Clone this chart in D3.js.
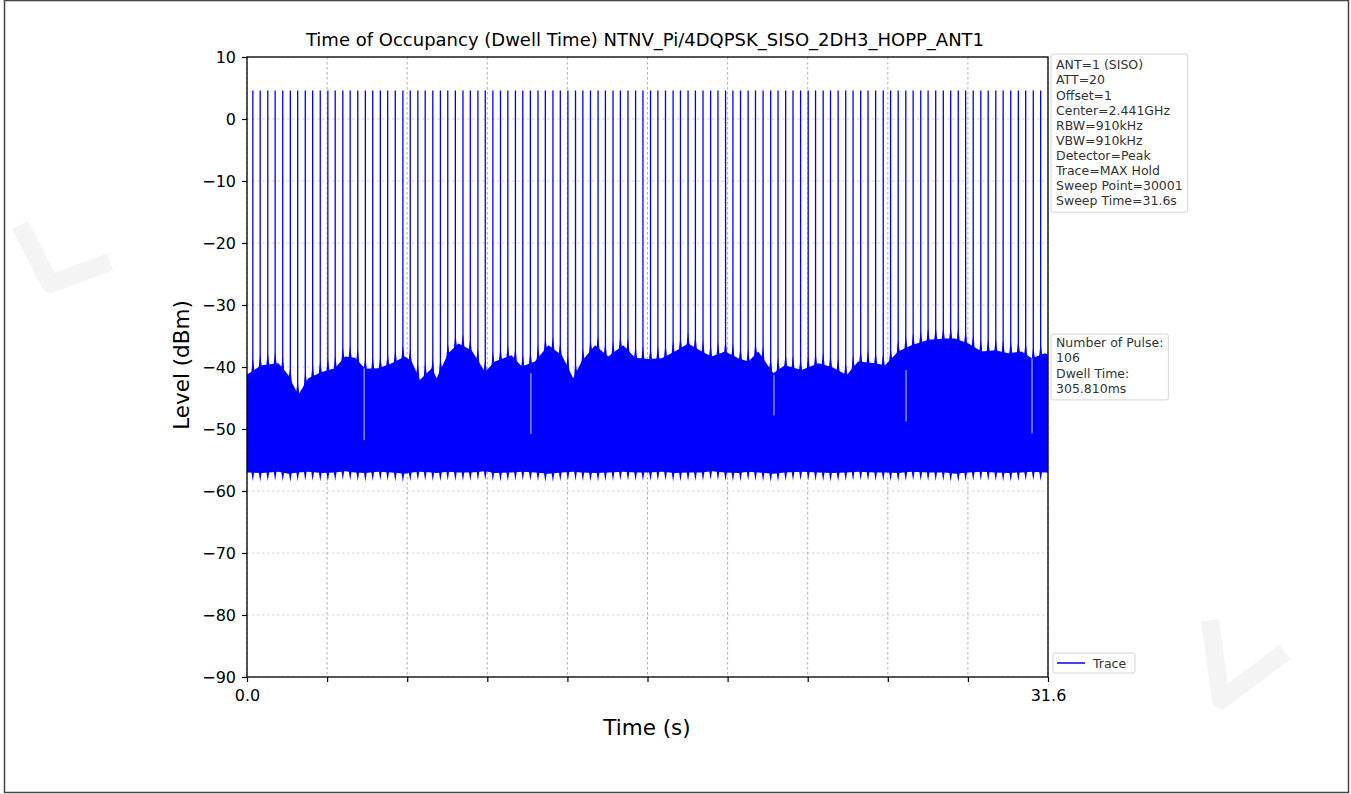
<!DOCTYPE html>
<html>
<head>
<meta charset="utf-8">
<script src="https://cdn.jsdelivr.net/npm/d3@7"></script>
<style>
  body { margin: 0; background: #fff; }
  svg { display: block; font-family: "DejaVu Sans", sans-serif; }
</style>
</head>
<body>
<div id="chart"></div>
<script>
'use strict';

// ---- data ----
const titleText = "Time of Occupancy (Dwell Time) NTNV_Pi/4DQPSK_SISO_2DH3_HOPP_ANT1";
const xLabel = "Time (s)";
const yLabel = "Level (dBm)";

const yTicks = [10, 0, -10, -20, -30, -40, -50, -60, -70, -80, -90];
const xTicks = [0, 3.16, 6.32, 9.48, 12.64, 15.8, 18.96, 22.12, 25.28, 28.44, 31.6];
const xTickLabels = ["0.0", "", "", "", "", "", "", "", "", "", "31.6"];

// hop pulses (s), all peaking near the same level
const pulseTimes = [
  0.23, 0.52, 0.82, 1.11, 1.41, 1.71, 2.00, 2.30, 2.59, 2.89,
  3.19, 3.48, 3.78, 4.07, 4.37, 4.67, 4.96, 5.26, 5.55, 5.85,
  6.15, 6.44, 6.74, 7.03, 7.33, 7.63, 7.92, 8.22, 8.52, 8.81,
  9.11, 9.40, 9.70, 10.00, 10.29, 10.59, 10.88, 11.18, 11.48, 11.77,
  12.07, 12.36, 12.66, 12.96, 13.25, 13.55, 13.85, 14.14, 14.44, 14.73,
  15.03, 15.33, 15.62, 15.92, 16.21, 16.51, 16.81, 17.10, 17.40, 17.69,
  17.99, 18.29, 18.58, 18.88, 19.17, 19.47, 19.77, 20.06, 20.36, 20.66,
  20.95, 21.25, 21.54, 21.84, 22.14, 22.43, 22.73, 23.02, 23.32, 23.62,
  23.91, 24.21, 24.50, 24.80, 25.10, 25.39, 25.69, 25.99, 26.28, 26.58,
  26.87, 27.17, 27.47, 27.76, 28.06, 28.35, 28.65, 28.95, 29.24, 29.54,
  29.83, 30.13, 30.43, 30.72, 31.02, 31.31
];
const pulsePeakDbm = 4.6;
// skirt of each pulse above / below the noise band (dB) and its half width (s)
const skirtUp = 2.0;
const skirtDown = 1.4;
const skirtHalf = 0.07;

// noise floor band: upper and lower edges
const envTimes = [
  0.00, 0.58, 1.24, 1.63, 2.02, 2.42, 2.95, 3.47, 3.87, 4.26,
  4.66, 5.18, 5.71, 6.23, 6.50, 6.82, 7.29, 7.48, 7.94, 8.34,
  8.86, 9.39, 9.78, 10.44, 10.84, 11.36, 11.89, 12.42, 12.87, 13.20,
  13.73, 14.25, 14.84, 15.31, 15.83, 16.36, 16.88, 17.41, 17.94, 18.33,
  18.86, 19.38, 19.78, 20.17, 20.76, 21.22, 21.88, 22.54, 23.07, 23.66,
  24.11, 24.77, 25.17, 25.69, 26.22, 26.88, 27.54, 27.93, 28.46, 28.98,
  29.51, 30.03, 30.56, 30.96, 31.48, 31.60
];
const envUpper = [
  -41.2, -39.7, -39.4, -41.3, -44.5, -41.8, -40.8, -40.2, -38.3, -38.5,
  -40.3, -40.2, -39.4, -38.3, -39.1, -42.1, -40.2, -41.8, -37.8, -36.2,
  -37.3, -40.8, -39.1, -38.1, -39.9, -39.1, -36.5, -38.1, -41.8, -39.1,
  -36.5, -38.3, -36.5, -38.5, -38.7, -38.6, -37.5, -36.2, -37.5, -38.3,
  -37.5, -38.6, -39.1, -37.5, -41.0, -39.7, -40.5, -39.4, -40.0, -41.3,
  -39.1, -39.4, -39.7, -37.5, -36.5, -35.6, -35.4, -35.4, -36.2, -37.5,
  -37.3, -37.8, -37.5, -38.6, -37.8, -38.0
];
const envLower = [
  -57.0, -57.1, -56.9, -57.2, -57.0, -56.9, -57.1, -57.0, -56.8, -57.0,
  -57.1, -56.9, -57.0, -57.2, -57.0, -56.9, -57.0, -57.1, -56.9, -57.0,
  -57.0, -56.8, -57.1, -57.0, -56.9, -57.0, -57.2, -57.0, -56.9, -57.0,
  -57.1, -57.0, -56.9, -57.0, -57.0, -56.9, -57.1, -57.0, -57.0, -56.8,
  -57.0, -57.1, -56.9, -57.0, -57.2, -57.0, -56.9, -57.0, -57.1, -57.0,
  -56.9, -57.0, -57.0, -57.1, -56.9, -57.0, -57.0, -57.2, -57.0, -56.9,
  -57.0, -57.1, -57.0, -56.9, -57.0, -57.0
];

// thin light streaks inside the band
const gapTimes = [4.62, 11.20, 20.79, 26.00, 30.97];
const gapTop = [-40.2, -41.0, -41.3, -40.5, -38.6];
const gapBottom = [-51.8, -50.8, -47.8, -48.8, -50.7];

const infoLines = [
  "ANT=1 (SISO)", "ATT=20", "Offset=1", "Center=2.441GHz", "RBW=910kHz",
  "VBW=910kHz", "Detector=Peak", "Trace=MAX Hold", "Sweep Point=30001", "Sweep Time=31.6s"
];
const pulseInfoLines = ["Number of Pulse:", "106", "Dwell Time:", "305.810ms"];
const legendLabel = "Trace";

// ---- drawing ----
(function() {
  const width = 1351, height = 794;
  const plot = { left: 247, right: 1048, top: 57, bottom: 677 };
  const traceColor = "#0000ff";

  const svg = d3.select('#chart')
    .append('svg')
    .attr('width', width)
    .attr('height', height);

  // page frame and faint watermarks
  svg.append('rect')
    .attr('x', 4.5).attr('y', 0.5)
    .attr('width', 1344).attr('height', 792)
    .attr('fill', '#fff')
    .attr('stroke', '#444')
    .attr('stroke-width', 1.5);

  const marks = [
    [[20, 225], [50, 284], [110, 262]],
    [[1210, 620], [1221, 700], [1285, 652]]
  ];
  marks.forEach(function(pts) {
    svg.append('path')
      .attr('d', d3.line()(pts))
      .attr('fill', 'none')
      .attr('stroke', '#f4f4f4')
      .attr('stroke-width', 18)
      .attr('stroke-linejoin', 'round');
  });

  const x = d3.scaleLinear().domain([0, 31.6]).range([plot.left, plot.right]);
  const y = d3.scaleLinear().domain([-90, 10]).range([plot.bottom, plot.top]);

  // grid
  const grid = svg.append('g')
    .attr('stroke', '#9a9a9a')
    .attr('stroke-width', 0.8)
    .attr('stroke-dasharray', '2.5,2.5');
  grid.selectAll('.vg').data(xTicks).enter().append('line')
    .attr('x1', d => x(d)).attr('x2', d => x(d))
    .attr('y1', plot.top).attr('y2', plot.bottom);
  grid.selectAll('.hg').data(yTicks).enter().append('line')
    .attr('x1', plot.left).attr('x2', plot.right)
    .attr('y1', d => y(d)).attr('y2', d => y(d))
    .attr('stroke-opacity', 0.55);

  // noise band
  const band = envTimes.map((t, i) => ({ t: t, hi: envUpper[i], lo: envLower[i] }));
  svg.append('path')
    .datum(band)
    .attr('fill', traceColor)
    .attr('d', d3.area()
      .x(d => x(d.t))
      .y0(d => y(d.lo))
      .y1(d => y(d.hi)));

  // band edges at any time, from the read envelope
  const hiAt = d3.scaleLinear().domain(envTimes).range(envUpper).clamp(true);
  const loAt = d3.scaleLinear().domain(envTimes).range(envLower).clamp(true);

  // pulse skirts, above and below the band
  const skirt = d3.line().x(d => x(d[0])).y(d => y(d[1]));
  svg.selectAll('.skirt')
    .data(pulseTimes)
    .enter()
    .append('path')
      .attr('fill', traceColor)
      .attr('d', t => skirt([
        [t - skirtHalf, hiAt(t - skirtHalf) - 0.5],
        [t, hiAt(t) + skirtUp],
        [t + skirtHalf, hiAt(t + skirtHalf) - 0.5],
        [t + skirtHalf, loAt(t + skirtHalf) + 0.5],
        [t, loAt(t) - skirtDown],
        [t - skirtHalf, loAt(t - skirtHalf) + 0.5]
      ]) + 'Z');

  svg.selectAll('.gap')
    .data(gapTimes)
    .enter()
    .append('line')
      .attr('x1', d => x(d)).attr('x2', d => x(d))
      .attr('y1', (d, i) => y(gapTop[i]))
      .attr('y2', (d, i) => y(gapBottom[i]))
      .attr('stroke', '#c9c9ff')
      .attr('stroke-width', 1);

  // pulses
  svg.selectAll('.pulse')
    .data(pulseTimes)
    .enter()
    .append('line')
      .attr('x1', d => x(d)).attr('x2', d => x(d))
      .attr('y1', d => y(hiAt(d)))
      .attr('y2', y(pulsePeakDbm))
      .attr('stroke', traceColor)
      .attr('stroke-width', 1.3);

  // axes
  const fmtMinus = d => (d < 0 ? "\u2212" + Math.abs(d) : String(d));
  const yAxis = svg.append('g')
    .attr('transform', `translate(${plot.left}, 0)`)
    .call(d3.axisLeft(y).tickValues(yTicks).tickFormat(fmtMinus).tickSize(5).tickPadding(6));
  const xAxis = svg.append('g')
    .attr('transform', `translate(0, ${plot.bottom})`)
    .call(d3.axisBottom(x).tickValues(xTicks).tickFormat((d, i) => xTickLabels[i]).tickSize(5).tickPadding(8));
  [xAxis, yAxis].forEach(function(g) {
    g.select('.domain').remove();
    g.selectAll('line').attr('stroke', '#000').attr('stroke-width', 1.2);
    g.selectAll('text')
      .attr('fill', '#000')
      .style('font-family', '"DejaVu Sans", sans-serif')
      .style('font-size', '16px');
  });

  svg.append('rect')
    .attr('x', plot.left).attr('y', plot.top)
    .attr('width', plot.right - plot.left)
    .attr('height', plot.bottom - plot.top)
    .attr('fill', 'none')
    .attr('stroke', '#000')
    .attr('stroke-width', 1.3);

  // titles
  svg.append('text')
    .attr('x', 645).attr('y', 46)
    .attr('text-anchor', 'middle')
    .style('font-size', '18px')
    .text(titleText);

  svg.append('text')
    .attr('x', 647).attr('y', 735)
    .attr('text-anchor', 'middle')
    .style('font-size', '21.5px')
    .text(xLabel);

  svg.append('text')
    .attr('transform', 'translate(189, 365)rotate(-90)')
    .attr('text-anchor', 'middle')
    .style('font-size', '21.5px')
    .text(yLabel);

  // side text boxes
  function textBox(lines, top, firstBase, step) {
    const g = svg.append('g');
    const box = g.append('rect');
    const txt = g.selectAll('text')
      .data(lines)
      .enter()
      .append('text')
        .attr('x', 1056)
        .attr('y', (d, i) => firstBase + i * step)
        .style('font-size', '12.5px')
        .attr('fill', '#333')
        .text(d => d);
    let w = d3.max(txt.nodes(), n => n.getComputedTextLength());
    box.attr('x', 1051).attr('y', top)
      .attr('width', w + 10)
      .attr('height', firstBase + (lines.length - 1) * step + 7 - top)
      .attr('rx', 2)
      .attr('fill', '#fff')
      .attr('fill-opacity', 0.8)
      .attr('stroke', '#d4d4d4')
      .attr('stroke-width', 1);
  }
  textBox(infoLines, 54, 69.3, 15.1);
  textBox(pulseInfoLines, 334, 347, 15.3);

  // legend
  const leg = svg.append('g');
  leg.append('rect')
    .attr('x', 1053).attr('y', 653)
    .attr('width', 82).attr('height', 20)
    .attr('rx', 2)
    .attr('fill', '#fff')
    .attr('stroke', '#d4d4d4');
  leg.append('line')
    .attr('x1', 1057).attr('x2', 1085)
    .attr('y1', 663).attr('y2', 663)
    .attr('stroke', traceColor)
    .attr('stroke-width', 1.5);
  leg.append('text')
    .attr('x', 1093).attr('y', 667.5)
    .style('font-size', '12.5px')
    .attr('fill', '#333')
    .text(legendLabel);
})();
</script>
</body>
</html>
